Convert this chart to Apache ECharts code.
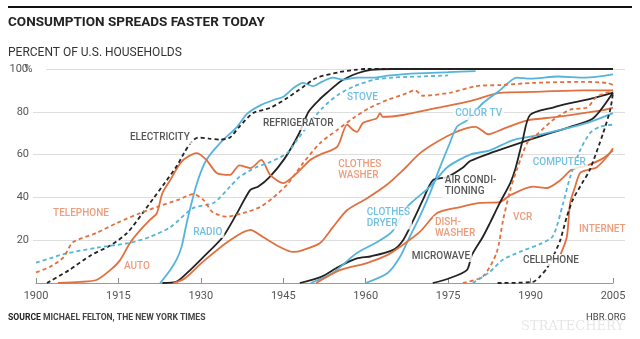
<!DOCTYPE html>
<html>
<head>
<meta charset="utf-8">
<script src="https://cdn.jsdelivr.net/npm/echarts@6/dist/echarts.min.js"></script>
<style>
  html, body { margin: 0; padding: 0; background: #fff; }
  #chart { width: 640px; height: 339px; }
</style>
</head>
<body>
<div id="chart"></div>
<script>
// Share of U.S. households owning each technology, [year, percent]
const electricity = [[1902,0],[1906,6],[1910,13],[1913.5,17.5],[1916.6,23.4],[1919.5,33],[1921.5,40],[1923.5,47],[1925.7,55],[1927,61],[1928.3,66],[1929.5,68],[1931.5,67.5],[1933.5,67],[1935.3,68],[1937,73],[1939.5,79.4],[1942.6,81.8],[1945.7,86.4],[1948.6,91.6],[1951,95.8],[1955.3,98.6],[1958,99.6],[1960,100],[2005,100]];
const refrigerator = [[1923,0],[1925.5,0.5],[1927.5,4.7],[1930.4,12],[1934,21.5],[1936.6,32.7],[1939,43.5],[1940.4,45],[1942.5,49.5],[1945.2,58],[1947.8,69.5],[1949.6,80],[1951.5,85.5],[1953,89],[1955.6,94.5],[1958.5,98],[1961,99.6],[1965,100],[2005,100]];
const radio = [[1922.6,0],[1924.4,6],[1925.6,11],[1926.5,17],[1927.5,29],[1929.3,46.7],[1931,57.5],[1933.5,65.4],[1936.6,73],[1938.4,79],[1940.8,83],[1943.2,85.5],[1945,87],[1946.8,91],[1948.6,93.5],[1950.4,92],[1952,94],[1954,96],[1955.9,95],[1958.4,96],[1961.3,96],[1964.4,97],[1969.3,98],[1975,98.5],[1980,99]];
const stove = [[1900,9.5],[1902.5,11.5],[1905,13.5],[1911,16.5],[1917,18.7],[1920.7,21.5],[1924.4,26],[1928.6,35],[1932.3,37.4],[1935.3,45],[1937,49.5],[1940,54],[1942.6,56.5],[1945.7,60.7],[1947.5,66.8],[1949.9,75],[1952.2,82],[1955,88],[1958,92],[1961.5,95],[1965,96],[1970,96.5],[1975,97]];
const telephone = [[1900,5],[1902.5,7.5],[1905,12],[1906.7,19],[1911,23.4],[1914.7,28],[1919,32.7],[1922,35.5],[1926,39],[1928.6,41.5],[1930.4,39],[1932.2,33],[1934.8,31],[1937.7,32.7],[1940.8,35.5],[1943.2,40],[1945.7,46],[1948.6,56],[1951.7,65.4],[1954.8,71.5],[1957.7,77],[1960.8,82],[1963.9,85.5],[1966.8,88],[1969,90],[1970.4,87.5],[1975.5,89],[1980,92],[1984.4,92.5],[1990.4,93.5],[1999.5,94],[2004,93.5],[2005,92.5]];
const auto = [[1904,0],[1908,0.5],[1911,1.4],[1913.5,6],[1915.3,10.7],[1917.1,18.7],[1919,24.8],[1920.7,29.4],[1922,32.7],[1923,42],[1924.4,48],[1926,55],[1927,58],[1929.3,60.7],[1931,57.5],[1932.9,51.4],[1935.3,50.5],[1937,55],[1939,53.7],[1941,57.5],[1942.6,50.5],[1945,46.7],[1947.5,51.4],[1949.9,57.5],[1951.7,60],[1954.8,63.6],[1956.6,74],[1957.7,71.5],[1958.4,70.6],[1959.5,74.8],[1962,77],[1962.6,79.4],[1963.1,77.6],[1966.8,78.5],[1973,81.8],[1979,85],[1984.4,88.8],[1990.4,89.3],[1999.5,90],[2005,90]];
const clothesWasher = [[1925,0],[1927,2],[1930.4,10],[1935.3,20],[1939,24.8],[1941.3,21.5],[1944.4,16.8],[1946.8,14.5],[1948.6,15.4],[1951.7,18.7],[1954,26],[1956.6,34],[1960.2,39.5],[1963.9,46],[1966.8,52.8],[1969.9,60.7],[1973,66],[1975.9,70],[1978.4,72.4],[1980,73],[1982.3,69.5],[1985,72],[1989.4,76],[1994.8,77.6],[2002.6,80.5],[2005,82]];
const colorTv = [[1960,0],[1964,4.7],[1966.2,12],[1968,21.5],[1970,32],[1971.7,42],[1973.5,54],[1975.3,65.4],[1976.6,73],[1978.4,76],[1981.3,84],[1984.4,90],[1987.5,96],[1990,95.5],[1995,96.5],[2000,96],[2005,97.5]];
const airConditioning = [[1948,0],[1952,3],[1955,7.5],[1958.4,11.5],[1961,12.5],[1965,15.5],[1966.8,20],[1968.6,29],[1970.4,38.8],[1972.2,48],[1974.8,49.5],[1977.7,54],[1979,57],[1983,61],[1988,65.4],[1992.3,69],[1997.2,73],[2001.4,77],[2005,89]];
const clothesDryer = [[1950,0],[1954,4.7],[1958.4,14],[1962,19],[1964.8,24],[1967.5,35.5],[1971.7,45],[1974.8,54],[1979,60],[1982.6,62],[1986.8,66.8],[1991.2,69],[1995.4,71.5],[2000.3,74.8],[2005,79.4]];
const dishwasher = [[1951,0],[1955.3,6],[1960.2,9.3],[1963.9,13],[1966.2,16.8],[1969.9,24],[1973,32.7],[1977.2,35.5],[1980.8,37.4],[1984.4,37.8],[1986.3,41],[1990.4,45],[1993,44.4],[1995.4,48],[1997.5,53],[2000.3,55],[2003,58],[2005,62]];
const microwave = [[1972.2,0],[1975,2],[1978.4,6],[1979.3,13],[1981.3,21.5],[1982.6,28],[1984.4,37.4],[1986.3,46.7],[1987.2,53],[1988.5,66],[1989.9,78.5],[1994.1,82],[1997.2,84],[2001.4,86.4],[2005,89]];
const vcr = [[1977.7,0],[1981.3,3],[1983.8,14],[1985,29.4],[1986.3,43.5],[1987.5,53],[1989.5,66],[1991.2,69.5],[1994,76],[1997.2,81],[2000.3,82],[2002,87],[2004.5,89.5],[2005,90]];
const computer = [[1979.5,0],[1982.5,5],[1985,11],[1988.5,15],[1992,18.5],[1994.1,22],[1995.9,37],[1997.2,49.5],[1999,62],[2000.8,70],[2002.6,73],[2005,74]];
const cellphone = [[1984,0],[1990.4,0.5],[1991.7,3],[1993,7],[1994.4,14],[1995.4,20],[1996.6,31],[1997.7,39],[1999.4,46.7],[2000.8,53],[2003.2,70],[2004.5,81],[2005,89]];
const internet = [[1995.4,13],[1996.6,21.5],[1997.2,37.4],[1998.1,45],[1999,51.4],[2000.3,52.8],[2002,54],[2003.9,59],[2005,63]];

// Axis ticks
const yearTicks = [1900, 1915, 1930, 1945, 1960, 1975, 1990, 2005];

// Line labels: text, year at the text's left edge, percent at its middle
const labelTexts = ['ELECTRICITY','REFRIGERATOR','STOVE','CLOTHES\nWASHER','TELEPHONE','AUTO','RADIO','COLOR TV','AIR CONDI-\nTIONING','CLOTHES\nDRYER','DISH-\nWASHER','MICROWAVE','VCR','COMPUTER','INTERNET','CELLPHONE'];
const labelYears = [1917.1,1941.3,1956.6,1955,1903.1,1916,1928.6,1976.3,1974.4,1960.2,1972.6,1968.4,1986.8,1990.4,1998.8,1988.6];
const labelValues = [67.8,74.3,86.9,52.8,32.7,7.5,23.8,79,45.1,30.4,25.7,12.6,30.4,56.1,24.8,10.7];
const labelKinds = ['black','black','blue','orange','orange','orange','blue','blue','black','blue','orange','black','orange','blue','orange','black'];

const ORANGE = '#e2703f', BLUE = '#55b4dc', BLACK = '#222222';
const LABEL_COLORS = { orange: '#e6855c', blue: '#4fb0da', black: '#2b2b2b' };
const GRID_LINE = '#dedede';

const lines = [
  { name: 'Electricity', data: electricity, color: BLACK, dashed: true },
  { name: 'Refrigerator', data: refrigerator, color: BLACK },
  { name: 'Radio', data: radio, color: BLUE },
  { name: 'Stove', data: stove, color: BLUE, dashed: true },
  { name: 'Telephone', data: telephone, color: ORANGE, dashed: true },
  { name: 'Auto', data: auto, color: ORANGE },
  { name: 'Clothes washer', data: clothesWasher, color: ORANGE },
  { name: 'Color TV', data: colorTv, color: BLUE },
  { name: 'Air conditioning', data: airConditioning, color: BLACK },
  { name: 'Clothes dryer', data: clothesDryer, color: BLUE },
  { name: 'Dishwasher', data: dishwasher, color: ORANGE },
  { name: 'Microwave', data: microwave, color: BLACK },
  { name: 'VCR', data: vcr, color: ORANGE, dashed: true },
  { name: 'Computer', data: computer, color: BLUE, dashed: true },
  { name: 'Cellphone', data: cellphone, color: BLACK, dashed: true },
  { name: 'Internet', data: internet, color: ORANGE }
];

const FONT = 'Roboto, "Open Sans", sans-serif';

const lineSeries = lines.map(l => ({
  name: l.name,
  type: 'line',
  xAxisIndex: 0,
  yAxisIndex: 0,
  data: l.data,
  showSymbol: false,
  smooth: 0.25,
  silent: true,
  z: l.dashed ? 3 : 2,
  lineStyle: { color: l.color, width: 1.8, type: l.dashed ? [4, 3] : 'solid', cap: 'butt' }
}));

const labelSeries = {
  type: 'scatter',
  xAxisIndex: 0,
  yAxisIndex: 0,
  symbolSize: 0,
  silent: true,
  z: 10,
  data: labelTexts.map((t, i) => ({
    value: [labelYears[i], labelValues[i]],
    name: t,
    label: { color: LABEL_COLORS[labelKinds[i]] }
  })),
  label: {
    show: true,
    position: 'right',
    distance: -2,
    align: 'left',
    formatter: p => p.name,
    fontFamily: FONT,
    fontSize: 10,
    fontWeight: 500,
    lineHeight: 11,
    backgroundColor: '#ffffff',
    padding: [1, 2, 0, 2]
  }
};

// Splitline colours per tick (0,20,...,100): hide the baseline and, on the
// wide grid, the top line, which is drawn by its own grid further right.
const NONE = 'rgba(0,0,0,0)';
const hideTop = [NONE, GRID_LINE, GRID_LINE, GRID_LINE, GRID_LINE, NONE];
const onlyTop = [NONE, NONE, NONE, NONE, NONE, GRID_LINE];

const hiddenX = { type: 'value', min: 0, max: 1, show: false };
const guideY = (gridIndex, colors) => ({
  type: 'value', gridIndex, min: 0, max: 100, interval: 20,
  axisLine: { show: false }, axisTick: { show: false }, axisLabel: { show: false },
  splitLine: { show: true, lineStyle: { color: colors, width: 1 } }
});

const chart = echarts.init(document.getElementById('chart'), null, { renderer: 'canvas' });
chart.setOption({
  animation: false,
  backgroundColor: '#ffffff',
  textStyle: { fontFamily: FONT },
  title: [
    { text: 'CONSUMPTION SPREADS FASTER TODAY', left: 8, top: 16, padding: 0,
      textStyle: { fontFamily: FONT, fontSize: 13.5, fontWeight: 'bold', color: '#222' } },
    { text: 'PERCENT OF U.S. HOUSEHOLDS', left: 8, top: 47, padding: 0,
      textStyle: { fontFamily: FONT, fontSize: 12, fontWeight: 'normal', color: '#333' } },
    { text: '{b|SOURCE} MICHAEL FELTON, THE NEW YORK TIMES', left: 8, top: 313, padding: 0,
      textStyle: { fontFamily: FONT, fontSize: 8.6, color: '#444',
        rich: { b: { fontFamily: FONT, fontSize: 8.6, fontWeight: 'bold', color: '#222' } } } },
    { text: 'HBR.ORG', right: 14, top: 313, padding: 0,
      textStyle: { fontFamily: FONT, fontSize: 9.5, fontWeight: 'normal', color: '#444' } },
    { text: 'STRATECHERY', right: 16, top: 320, padding: 0,
      textStyle: { fontFamily: '"DejaVu Serif", "Liberation Serif", serif', fontSize: 13, fontWeight: 'normal', color: 'rgba(200,200,200,0.45)' } }
  ],
  graphic: [
    { type: 'line', shape: { x1: 8, y1: 7, x2: 632, y2: 7 }, style: { stroke: '#111', lineWidth: 2 } }
  ],
  grid: [
    { left: 36, right: 27, top: 69, bottom: 56 },
    { left: 33, right: 15, top: 69, bottom: 56 },
    { left: 46, right: 15, top: 69, bottom: 56 }
  ],
  xAxis: [
    {
      type: 'value', gridIndex: 0, min: 1900, max: 2005,
      axisLine: { show: true, lineStyle: { color: '#9a9a9a', width: 1 } },
      axisTick: { show: true, inside: true, length: 5, customValues: yearTicks, lineStyle: { color: '#8a8a8a' } },
      axisLabel: { show: true, customValues: yearTicks, color: '#555', fontSize: 11, margin: 8, fontFamily: FONT,
        formatter: v => String(v) },
      splitLine: { show: false }
    },
    Object.assign({ gridIndex: 1 }, hiddenX),
    Object.assign({ gridIndex: 2 }, hiddenX)
  ],
  yAxis: [
    {
      type: 'value', gridIndex: 0, min: 0, max: 100, interval: 20,
      axisLine: { show: false }, axisTick: { show: false }, splitLine: { show: false },
      axisLabel: {
        show: true, margin: 7, color: '#555', fontSize: 11, fontFamily: FONT,
        formatter: v => (v === 0 ? '' : (v === 100 ? '{n|100}{p|%}' : String(v))),
        rich: {
          n: { fontSize: 11, color: '#555', fontFamily: FONT },
          p: { fontSize: 11, color: '#555', fontFamily: FONT, width: 1, align: 'left' }
        }
      }
    },
    guideY(1, hideTop),
    guideY(2, onlyTop)
  ],
  series: lineSeries.concat([labelSeries])
});
</script>
</body>
</html>
